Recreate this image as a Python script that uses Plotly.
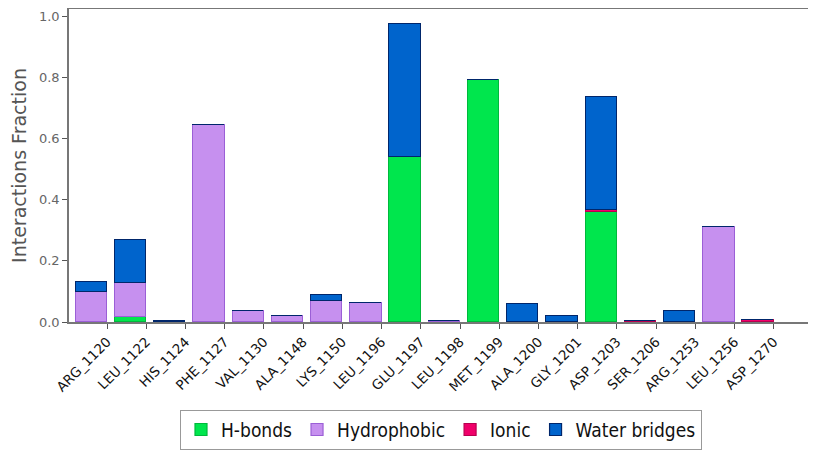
import plotly.graph_objects as go

residues = ["ARG_1120", "LEU_1122", "HIS_1124", "PHE_1127", "VAL_1130", "ALA_1148",
            "LYS_1150", "LEU_1196", "GLU_1197", "LEU_1198", "MET_1199", "ALA_1200",
            "GLY_1201", "ASP_1203", "SER_1206", "ARG_1253", "LEU_1256", "ASP_1270"]
hbonds      = [0.0, 0.016, 0.0, 0.0, 0.0, 0.0, 0.0, 0.0, 0.54, 0.0, 0.792, 0.0, 0.0, 0.358, 0.0, 0.0, 0.0, 0.0]
hydrophobic = [0.097, 0.112, 0.0, 0.644, 0.037, 0.018, 0.069, 0.063, 0.0, 0.002, 0.0, 0.0, 0.0, 0.0, 0.0, 0.0, 0.312, 0.0]
ionic       = [0.0, 0.0, 0.0, 0.0, 0.0, 0.0, 0.0, 0.0, 0.0, 0.0, 0.0, 0.0, 0.0, 0.008, 0.004, 0.0, 0.0, 0.006]
water       = [0.034, 0.14, 0.003, 0.0, 0.0, 0.0, 0.019, 0.0, 0.435, 0.0, 0.0, 0.059, 0.019, 0.371, 0.0, 0.036, 0.0, 0.0]

xs = list(range(len(residues)))

series = [
    ("H-bonds", hbonds, "#00e64d", "#00b83c"),
    ("Hydrophobic", hydrophobic, "#c690ef", "#9b5fd6"),
    ("Ionic", ionic, "#f0006a", "#b8004f"),
    ("Water bridges", water, "#0064cc", "#00266b"),
]

fig = go.Figure()
for name, vals, fill, edge in series:
    fig.add_trace(go.Bar(
        x=xs, y=vals, name=name, width=0.8, offset=-0.8,
        marker=dict(color=fill, line=dict(color=edge, width=1.2)),
    ))

# page body has an 8px default margin, so the figure is 8px smaller and margins compensate
fig.update_layout(
    barmode="stack",
    width=808, height=446,
    margin=dict(l=61, r=3, t=1, b=132, autoexpand=False),
    paper_bgcolor="white", plot_bgcolor="white",
    font=dict(family="DejaVu Sans", color="#222"),
    showlegend=True,
    legend=dict(orientation="h", x=0.5, xanchor="center", y=-0.28, yanchor="top",
                bordercolor="#999", borderwidth=1,
                font=dict(family="DejaVu Sans Condensed, DejaVu Sans", size=19, color="#111"),
                itemwidth=30, tracegroupgap=0, traceorder="normal"),
    bargap=0,
)
fig.update_xaxes(
    range=[-0.97, 18.0], tickmode="array", tickvals=xs, ticktext=residues,
    tickangle=-45, tickfont=dict(size=13.5, color="#111"), automargin=False,
    showline=True, linecolor="#777", linewidth=1.5, mirror=True,
    ticks="outside", ticklen=5, tickcolor="#555", showgrid=False, zeroline=False,
)
fig.update_yaxes(
    range=[0, 1.023], tickvals=[0, 0.2, 0.4, 0.6, 0.8, 1.0],
    ticktext=["0.0", "0.2", "0.4", "0.6", "0.8", "1.0"], automargin=False,
    tickfont=dict(size=13, color="#666"),
    title=dict(text="Interactions Fraction", font=dict(size=19, color="#555"), standoff=8),
    showline=True, linecolor="#777", linewidth=1.5, mirror=True,
    ticks="outside", ticklen=5, tickcolor="#555", showgrid=False, zeroline=False,
)

fig.write_html("out.html")
